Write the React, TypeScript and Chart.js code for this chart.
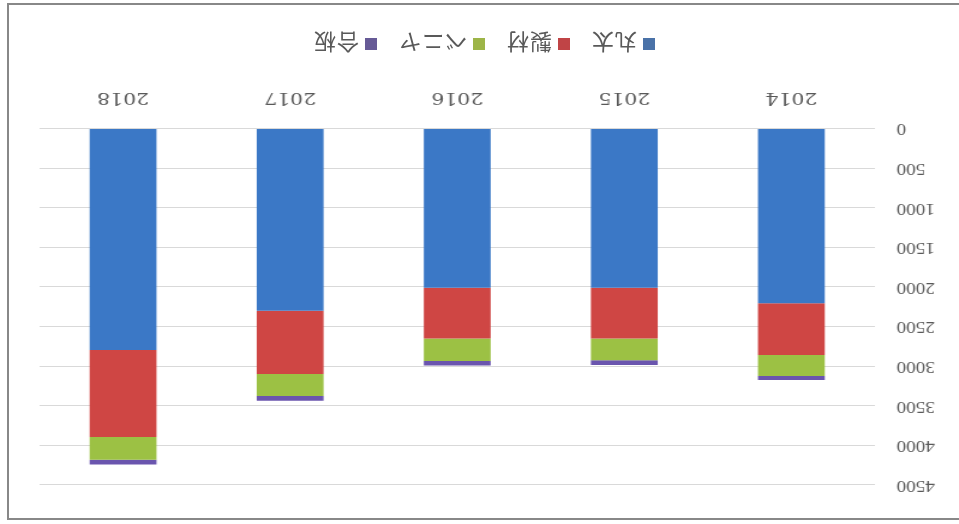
import React, { useEffect, useRef } from "react";
import { Chart, registerables } from "chart.js";

Chart.register(...registerables);

const categories = ["2014", "2015", "2016", "2017", "2018"];
const seriesNames = ["丸太", "製材", "ベニヤ", "合板"];
const maruta = [2205, 2010, 2010, 2300, 2795];
const seizai = [655, 640, 640, 800, 1100];
const beniya = [265, 275, 285, 275, 285];
const gouban = [50, 60, 55, 60, 60];
const yTicks = [0, 500, 1000, 1500, 2000, 2500, 3000, 3500, 4000, 4500];
const colors = ["#3B78C6", "#CF4644", "#9CC144", "#6A55AE"];
const legendColors = ["#4A72A8", "#C04446", "#9DB548", "#665A96"];

const W = 799; // internal canvas width, stretched horizontally to 959

export default function App() {
  const ref = useRef<HTMLCanvasElement>(null);
  useEffect(() => {
    if (!ref.current) return;
    const values = [maruta, seizai, beniya, gouban];
    const chart = new Chart(ref.current, {
      type: "bar",
      data: {
        labels: categories,
        datasets: seriesNames.map((n, i) => ({
          label: n,
          data: values[i],
          backgroundColor: colors[i],
          borderWidth: 0,
          barPercentage: 0.4,
          categoryPercentage: 1,
        })),
      },
      options: {
        responsive: false,
        animation: false,
        devicePixelRatio: 1,
        layout: { padding: { top: 39, left: 0, right: 33, bottom: 62.6 } },
        plugins: {
          tooltip: { enabled: false },
          legend: { display: false },
        },
        scales: {
          x: {
            stacked: true,
            grid: { display: false, drawTicks: false },
            border: { display: false },
            ticks: {
              padding: 21,
              color: "#595959",
              font: { family: "'DejaVu Serif'", size: 17 },
            },
            afterFit: (s: any) => {
              s.height = 66;
            },
          },
          y: {
            stacked: true,
            min: 0,
            max: 4500,
            afterBuildTicks: (s: any) => {
              s.ticks = yTicks.map((v) => ({ value: v }));
            },
            grid: { color: "#d9d9d9", drawTicks: false, lineWidth: 1 },
            border: { display: false },
            ticks: {
              padding: 18,
              color: "#595959",
              font: { family: "'Liberation Serif'", size: 16 },
              callback: (v: any) => String(v),
            },
            afterFit: (s: any) => {
              s.width = 70;
            },
          },
        },
      },
    });
    return () => chart.destroy();
  }, []);

  return (
    <div
      style={{
        position: "fixed",
        left: 0,
        top: 0,
        width: 959,
        height: 524,
        background: "#fff",
        transform: "rotate(180deg)",
        overflow: "hidden",
      }}
    >
      <div
        style={{
          position: "absolute",
          left: -4,
          top: 4,
          width: 956,
          height: 517,
          border: "2px solid #888",
          borderLeft: "none",
          boxSizing: "border-box",
        }}
      />
      <canvas
        ref={ref}
        width={W}
        height={524}
        style={{
          position: "absolute",
          left: 0,
          top: 0,
          width: W,
          height: 524,
          display: "block",
          transform: `scaleX(${959 / W})`,
          transformOrigin: "0 0",
        }}
      />
      <div
        style={{
          position: "absolute",
          left: 304,
          top: 466,
          height: 28,
          display: "flex",
          alignItems: "center",
          fontFamily: "'Noto Sans CJK JP'",
          fontSize: 22,
          letterSpacing: 1,
          color: "#595959",
          whiteSpace: "nowrap",
        }}
      >
        {seriesNames.map((n, i) => (
          <div
            key={n}
            style={{
              display: "flex",
              alignItems: "center",
              marginRight: i < seriesNames.length - 1 ? 21 : 0,
            }}
          >
            <span
              style={{
                display: "inline-block",
                width: 12,
                height: 12,
                background: legendColors[i],
                marginRight: 6,
              }}
            />
            <span style={{ lineHeight: "28px" }}>{n}</span>
          </div>
        ))}
      </div>
    </div>
  );
}
